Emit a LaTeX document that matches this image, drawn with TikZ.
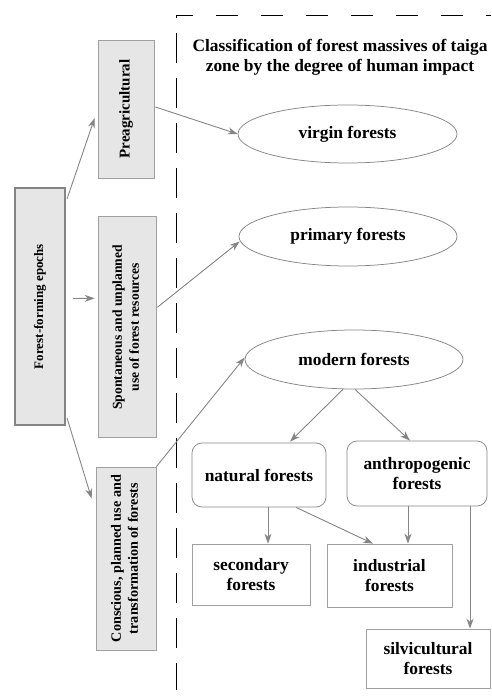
\documentclass[tikz,border=0pt]{standalone}
\usepackage{fontspec}
\setmainfont{Liberation Serif}
\usetikzlibrary{shapes.geometric,arrows.meta,calc}
\definecolor{boxfill}{HTML}{E6E6E6}
\definecolor{linegray}{HTML}{858585}
\definecolor{edgegray}{HTML}{A0A0A0}
\tikzset{every picture/.style={line width=0.75pt}}

\begin{document}
\begin{tikzpicture}[x=1pt,y=1pt,yscale=-1,xscale=1,
  font=\bfseries\fontsize{17.4}{20}\selectfont,
  epochbox/.style={draw=linegray, line width=2pt, fill=boxfill, inner sep=0pt,
    font=\bfseries\fontsize{13}{17}\selectfont},
  vbox/.style={draw=edgegray, fill=boxfill, inner sep=0pt,
    font=\bfseries\fontsize{13.6}{17}\selectfont},
  oval/.style={ellipse, draw=linegray, inner sep=0pt},
  roundbox/.style={draw=linegray, rounded corners=10pt, inner sep=0pt, align=center},
  plainbox/.style={draw=edgegray, inner sep=0pt, align=center},
  arr/.style={draw=linegray, line width=0.9pt, -{Stealth[length=10pt,width=7pt]}}]
\path[use as bounding box] (0,0) rectangle (491,700);

%Dashed frame
\draw [dash pattern=on 22pt off 23pt, dash phase=5pt] (176,15) -- (491,15) ;
\draw [dash pattern=on 30pt off 15pt, dash phase=27pt] (176,15) -- (176,690) ;

%Epochs
\node [epochbox, minimum width=50, minimum height=237] (ep) at (40,306.5)
  {\rotatebox{90}{Forest-forming epochs}};
\node [vbox, minimum width=56, minimum height=138] (pre) at (126,109)
  {\rotatebox{90}{\fontsize{15}{17}\selectfont Preagricultural}};
\node [vbox, minimum width=58, minimum height=221] (spon) at (127,327.3)
  {\rotatebox{90}{\begin{tabular}{@{}c@{}}Spontaneous and unplanned\\use of forest resources\end{tabular}}};
\node [vbox, minimum width=60, minimum height=183] (con) at (126,558.5)
  {\rotatebox{90}{\fontsize{14.2}{17}\selectfont\begin{tabular}{@{}c@{}}Conscious, planned use and\\transformation of forests\end{tabular}}};

%Classification
\node [align=center] (title) at (340,57)
  {Classification of forest massives of taiga\\zone by the degree of human impact};
\node [oval, minimum width=219, minimum height=58] (virgin) at (347.5,134) {virgin forests};
\node [oval, minimum width=218, minimum height=59] (prim) at (348,236.5) {primary forests};
\node [oval, minimum width=218, minimum height=59] (modern) at (354,359.5) {modern forests};
\node [roundbox, minimum width=134, minimum height=64] (nat) at (259,475) {natural forests};
\node [roundbox, minimum width=140, minimum height=65] (anthro) at (417,473.5) {anthropogenic\\forests};
\node [plainbox, minimum width=118, minimum height=61] (sec) at (251,574.5) {secondary\\forests};
\node [plainbox, minimum width=125, minimum height=63] (ind) at (389.5,575.5) {industrial\\forests};
\node [plainbox, minimum width=124, minimum height=59] (silvi) at (428,658.5) {silvicultural\\forests};

%Arrows
\draw [arr] ($(ep.north east)+(1,12)$) -- ($(pre.west)+(-3,9)$) ;
\draw [arr] ($(ep.east)+(7,-8)$) -- ($(spon.west)+(-3,-29)$) ;
\draw [arr] ($(ep.south east)+(1,-8)$) -- ($(con.west)+(-4,-60)$) ;
\draw [arr] ($(pre.east)+(1,-2)$) -- (virgin.west) ;
\draw [arr] ($(spon.east)+(1,-20)$) -- ($(prim.west)+(1,5)$) ;
\draw [arr] (con.north east) -- ($(modern.west)+(0,-2)$) ;
\draw [arr] ($(modern.south)+(-11,0)$) -- ($(nat.north)+(31,-1)$) ;
\draw [arr] ($(modern.south)+(1,0)$) -- ($(anthro.north)+(-7,0)$) ;
\draw [arr] ($(nat.south)+(9,0)$) -- ($(sec.north)+(17,0)$) ;
\draw [arr] ($(nat.south)+(37,0)$) -- ($(ind.north)+(-16.5,0)$) ;
\draw [arr] ($(anthro.south)+(-9,0)$) -- ($(ind.north)+(18.5,0)$) ;
\draw [arr] ($(anthro.south)+(53,0)$) -- ($(silvi.north)+(42,0)$) ;

\end{tikzpicture}
\end{document}
